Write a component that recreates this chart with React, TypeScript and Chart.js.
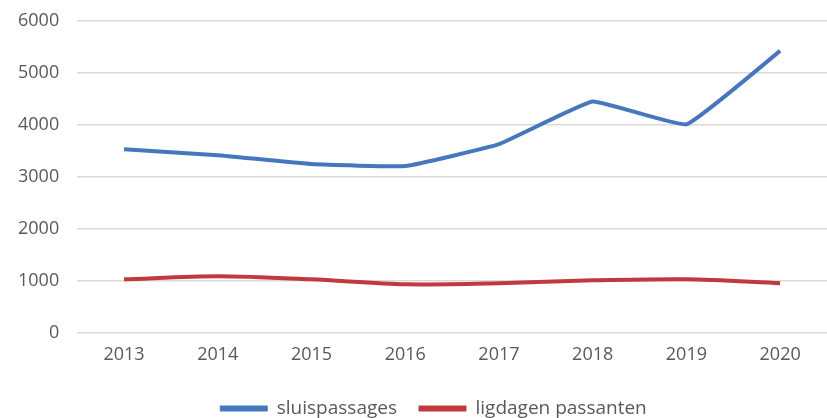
import React, { useEffect, useRef } from "react";
import { Chart, registerables } from "chart.js";

Chart.register(...registerables);

const categories = ["2013", "2014", "2015", "2016", "2017", "2018", "2019", "2020"];
const sluispassages = [3530, 3416, 3244, 3206, 3626, 4447, 4008, 5420];
const ligdagenPassanten = [1030, 1090, 1030, 935, 955, 1010, 1030, 955];
const yTicks = [0, 1000, 2000, 3000, 4000, 5000, 6000];

const FONT = "'Open Sans', 'Liberation Sans', sans-serif";

const legendShift = {
  id: "legendShift",
  afterLayout(chart: any) {
    const lg = chart.legend;
    if (lg) {
      lg.left += 20;
      lg.right += 20;
    }
  },
};

export default function App() {
  const ref = useRef<HTMLCanvasElement | null>(null);
  useEffect(() => {
    document.body.style.margin = "0";
    const ctx = ref.current!;
    const chart = new Chart(ctx, {
      type: "line",
      plugins: [legendShift],
      data: {
        labels: categories,
        datasets: [
          {
            label: "sluispassages",
            data: sluispassages,
            borderColor: "#4677BD",
            backgroundColor: "#4677BD",
            borderWidth: 4,
            pointRadius: 0,
            tension: 0.1,
          },
          {
            label: "ligdagen passanten",
            data: ligdagenPassanten,
            borderColor: "#C0393F",
            backgroundColor: "#C0393F",
            borderWidth: 4,
            pointRadius: 0,
            tension: 0.3,
          },
        ],
      },
      options: {
        animation: false,
        responsive: false,
        maintainAspectRatio: false,
        layout: { padding: { top: -3, right: 0, left: 0, bottom: -10 } },
        plugins: {
          tooltip: { enabled: false },
          legend: {
            position: "bottom",
            labels: {
              boxWidth: 47,
              boxHeight: 5,
              padding: 22,
              color: "#595959",
              font: { family: FONT, size: 19 },
              generateLabels: (c: any) => {
                const items = Chart.defaults.plugins.legend.labels.generateLabels(c);
                return items.map((i: any) => ({ ...i, lineWidth: 1 }));
              },
            },
          },
        },
        scales: {
          x: {
            offset: true,
            grid: { display: false },
            border: { display: false },
            title: { display: true, text: " ", padding: 0, font: { size: 17, lineHeight: 0.5 } },
            ticks: {
              color: "#595959",
              padding: 3,
              font: { family: FONT, size: 18 },
            },
          },
          y: {
            min: 0,
            max: 6000,
            afterBuildTicks: (axis: any) => {
              axis.ticks = yTicks.map((v) => ({ value: v }));
            },
            grid: { color: "#D9D9D9", lineWidth: 1.5, drawTicks: false },
            border: { display: false },
            ticks: {
              color: "#595959",
              padding: 18,
              callback: (v: any) => String(v),
              font: { family: FONT, size: 18, lineHeight: 0.3 },
            },
          },
        },
      },
    });
    return () => chart.destroy();
  }, []);
  return (
    <div style={{ width: 827, height: 418 }}>
      <canvas ref={ref} width={827} height={418} style={{ width: 827, height: 418 }} />
    </div>
  );
}
